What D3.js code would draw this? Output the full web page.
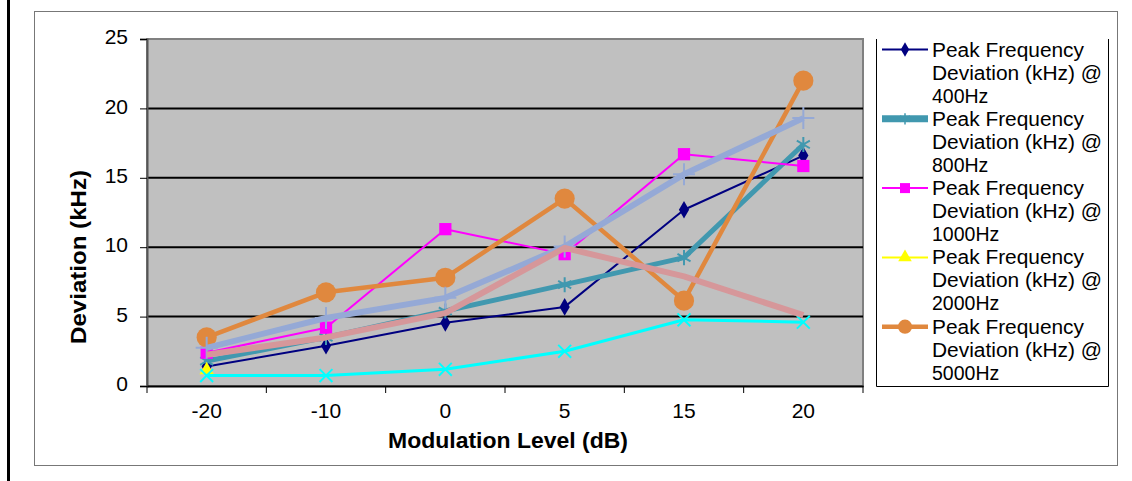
<!DOCTYPE html>
<html>
<head>
<meta charset="utf-8">
<script src="https://cdn.jsdelivr.net/npm/d3@7"></script>
<style>
  body { margin: 0; background: #fff; }
  text { font-family: Arial, "Liberation Sans", sans-serif; }
</style>
</head>
<body>
<div id="chart"></div>
<script>
// categories on the x axis
const levels = ["-20", "-10", "0", "5", "15", "20"];
const yTicks = [0, 5, 10, 15, 20, 25];

// series values
const dev400 = [1.4, 2.9, 4.55, 5.7, 12.7, 16.6];
const dev800 = [1.8, 3.5, 5.4, 7.3, 9.25, 17.4];
const dev1000 = [2.4, 4.2, 11.3, 9.5, 16.7, 15.85];
const dev2000 = [1.15, null, null, null, null, null];
const dev5000 = [3.5, 6.75, 7.8, 13.5, 6.15, 22.0];
const devCyan = [0.75, 0.75, 1.2, 2.5, 4.77, 4.6];
const devBlue = [2.75, 4.9, 6.35, 10.05, 15.25, 19.3];
const devRose = [2.25, 3.5, 5.25, 9.95, 7.9, 5.1];

const legendNames = ["400Hz", "800Hz", "1000Hz", "2000Hz", "5000Hz"];

const series = [
  {name: "400Hz", values: dev400, color: "#000080", width: 2, marker: "diamond"},
  {name: "800Hz", values: dev800, color: "#4198AF", width: 5, marker: "asterisk"},
  {name: "1000Hz", values: dev1000, color: "#FF00FF", width: 2, marker: "square"},
  {name: "2000Hz", values: dev2000, color: "#FFFF00", width: 2, marker: "triangle"},
  {name: "5000Hz", values: dev5000, color: "#E0883E", width: 4.5, marker: "circle"},
  {name: "s6", values: devCyan, color: "#00FFFF", width: 3, marker: "x"},
  {name: "s7", values: devBlue, color: "#95A9D6", width: 6, marker: "plus"},
  {name: "s8", values: devRose, color: "#D6979A", width: 6, marker: "none"}
];

const W = 1132, H = 481;
const plot = {left: 147, right: 863, top: 39, bottom: 386};

const svg = d3.select("#chart").append("svg")
  .attr("width", W).attr("height", H);

// thick black bar on the far left + chart frame
svg.append("rect").attr("x", 7).attr("y", 0).attr("width", 3).attr("height", H).attr("fill", "#000");
svg.append("rect").attr("x", 34.5).attr("y", 11.5).attr("width", 1083).attr("height", 454)
  .attr("fill", "none").attr("stroke", "#777").attr("stroke-width", 1);

const x = d3.scaleBand().domain(levels).range([plot.left, plot.right]);
const y = d3.scaleLinear().domain([0, 25]).range([plot.bottom, plot.top]);

// plot area
svg.append("rect")
  .attr("x", plot.left).attr("y", plot.top)
  .attr("width", plot.right - plot.left).attr("height", plot.bottom - plot.top)
  .attr("fill", "#C0C0C0").attr("stroke", "#808080").attr("stroke-width", 2);

// gridlines
svg.append("g").selectAll("line")
  .data(yTicks.filter(d => d > 0 && d < 25))
  .enter().append("line")
    .attr("x1", plot.left).attr("x2", plot.right)
    .attr("y1", d => y(d)).attr("y2", d => y(d))
    .attr("stroke", "#000").attr("stroke-width", 2);

// y axis
const yAxis = svg.append("g")
  .attr("transform", `translate(${plot.left},0)`)
  .call(d3.axisLeft(y).tickValues(yTicks).tickSize(7).tickPadding(12));
yAxis.select(".domain").attr("stroke", "#555").attr("stroke-width", 2);
yAxis.selectAll(".tick line").attr("stroke", "#000");
yAxis.selectAll("text").attr("font-size", 21).attr("fill", "#000")
  .attr("font-family", "Arial, 'Liberation Sans', sans-serif").attr("dy", "0.22em");

// x axis, ticks at band edges
const xAxis = svg.append("g")
  .attr("transform", `translate(0,${plot.bottom})`)
  .call(d3.axisBottom(x).tickSize(0).tickPadding(17));
xAxis.select(".domain").attr("stroke", "#000").attr("stroke-width", 2);
xAxis.selectAll("text").attr("font-size", 21).attr("fill", "#000")
  .attr("font-family", "Arial, 'Liberation Sans', sans-serif");
svg.append("g").selectAll("line")
  .data(levels.map(d => x(d)).concat([plot.right]))
  .enter().append("line")
    .attr("x1", d => d).attr("x2", d => d)
    .attr("y1", plot.bottom).attr("y2", plot.bottom + 7)
    .attr("stroke", "#000").attr("stroke-width", 1);

// axis titles
svg.append("text")
  .attr("x", 508).attr("y", 448)
  .attr("text-anchor", "middle").attr("font-size", 22).attr("font-weight", "bold")
  .attr("textLength", 240).attr("lengthAdjust", "spacingAndGlyphs")
  .text("Modulation Level (dB)");
svg.append("text")
  .attr("transform", "translate(86,257) rotate(-90)")
  .attr("text-anchor", "middle").attr("font-size", 22).attr("font-weight", "bold")
  .attr("textLength", 174).attr("lengthAdjust", "spacingAndGlyphs")
  .text("Deviation (kHz)");

// markers
function markerPath(kind, size) {
  const types = {
    diamond: d3.symbolDiamond, square: d3.symbolSquare, triangle: d3.symbolTriangle,
    circle: d3.symbolCircle, asterisk: d3.symbolAsterisk, x: d3.symbolX, plus: d3.symbolPlus
  };
  return d3.symbol().type(types[kind]).size(size)();
}
const markerSize = {diamond: 90, square: 150, triangle: 90, circle: 320, asterisk: 160, x: 110, plus: 160};
const legendSize = {diamond: 60, square: 100, triangle: 80, circle: 160, asterisk: 90, x: 80, plus: 90};
const stroked = {asterisk: true, x: true, plus: true};

const line = d3.line()
  .defined(d => d != null)
  .x((d, i) => x(levels[i]) + x.bandwidth() / 2)
  .y(d => y(d));

series.forEach(function(s) {
  const g = svg.append("g");
  g.append("path")
    .datum(s.values)
    .attr("d", line)
    .attr("fill", "none")
    .attr("stroke", s.color)
    .attr("stroke-width", s.width)
    .attr("stroke-linejoin", "round");
  if (s.marker === "none") return;
  g.selectAll("path.m")
    .data(s.values.map((v, i) => ({v: v, i: i})).filter(d => d.v != null))
    .enter().append("path")
      .attr("class", "m")
      .attr("transform", d => `translate(${x(levels[d.i]) + x.bandwidth() / 2},${y(d.v)})`)
      .attr("d", markerPath(s.marker, markerSize[s.marker]))
      .attr("fill", stroked[s.marker] ? "none" : s.color)
      .attr("stroke", stroked[s.marker] ? s.color : "none")
      .attr("stroke-width", 2);
});

// legend (box is shorter than its entries, so the last text gets clipped)
const lg = svg.append("g");
lg.append("clipPath").attr("id", "legclip")
  .append("rect").attr("x", 876).attr("y", 12).attr("width", 232).attr("height", 374);
lg.append("path")
  .attr("d", "M876.5,39V386.5H1108.5V39")
  .attr("fill", "none").attr("stroke", "#000").attr("stroke-width", 1);
const items = lg.append("g").attr("clip-path", "url(#legclip)");
series.slice(0, 5).forEach(function(s, i) {
  const cy = 49.5 + i * 69.3;
  items.append("line")
    .attr("x1", 882).attr("x2", 928).attr("y1", cy).attr("y2", cy)
    .attr("stroke", s.color).attr("stroke-width", s.width === 5 ? 7 : s.width);
  items.append("path")
    .attr("transform", `translate(905,${cy})`)
    .attr("d", markerPath(s.marker, legendSize[s.marker]))
    .attr("fill", stroked[s.marker] ? "none" : s.color)
    .attr("stroke", stroked[s.marker] ? s.color : "none")
    .attr("stroke-width", 1.5);
  const t = items.append("text").attr("font-size", 19.5).attr("fill", "#000");
  const widths = [152, 170, null];
  ["Peak Frequency", "Deviation (kHz) @", legendNames[i]].forEach(function(l, k) {
    t.append("tspan").attr("x", 932).attr("y", cy + 7 + k * 23)
      .attr("textLength", widths[k])
      .attr("lengthAdjust", "spacingAndGlyphs")
      .text(l);
  });
});
</script>
</body>
</html>
